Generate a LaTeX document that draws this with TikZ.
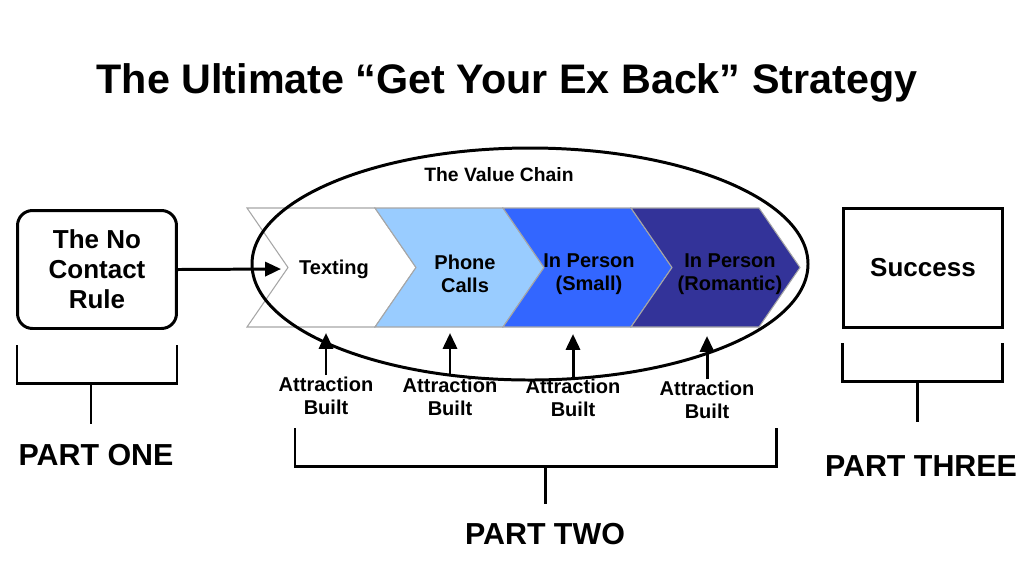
\documentclass[tikz,border=0pt]{standalone}
\usepackage{fontspec}
\setmainfont{Liberation Sans}
\usepackage{xcolor}
\usetikzlibrary{arrows.meta, positioning}

\definecolor{chainwhite}{HTML}{FFFFFF}
\definecolor{chainlight}{HTML}{99CCFF}
\definecolor{chainmid}{HTML}{3366FF}
\definecolor{chaindark}{HTML}{333399}

\begin{document}
\begin{tikzpicture}[
  x=0.02cm, y=-0.02cm,
  titletext/.style={font=\bfseries\fontsize{23.5}{28}\selectfont, anchor=base},
  block/.style={draw, line width=1.7pt, text centered, align=center, minimum width=3.18cm, font=\bfseries\fontsize{14.8}{17}\selectfont},
  chev/.style={fill=#1, draw=gray!70, line width=0.6pt},
  chevtext/.style={align=center, font=\bfseries\fontsize{11.4}{13}\selectfont},
  gain/.style={align=center, inner sep=1pt, font=\bfseries\fontsize{11.4}{13}\selectfont},
  partlbl/.style={font=\bfseries\fontsize{17.3}{20}\selectfont, anchor=base},
  bracket/.style={line width=1.7pt},
  arrow/.style={-{Triangle[length=9pt, width=8pt]}, line width=1.7pt}
]
\useasboundingbox (0,0) rectangle (1024,576);

% Title
\node[titletext] (title) at (507,93) {The Ultimate “Get Your Ex Back” Strategy};

% Part one box
\node[block, rounded corners=0.3cm, minimum height=2.36cm] (ncr) at (97,269.5) {The No\\Contact\\Rule};

% Value chain
\draw[chev=chainwhite] (247,208) -- (375,208) -- (416,267.5) -- (375,327) -- (247,327) -- (288,267.5) -- cycle;
\draw[chev=chainlight] (375,208) -- (503,208) -- (544,267.5) -- (503,327) -- (375,327) -- (416,267.5) -- cycle;
\draw[chev=chainmid] (503,208) -- (631,208) -- (672,267.5) -- (631,327) -- (503,327) -- (544,267.5) -- cycle;
\draw[chev=chaindark] (631,208) -- (759,208) -- (800,267.5) -- (759,327) -- (631,327) -- (672,267.5) -- cycle;

\node[chevtext] (texting) at (334,269) {Texting};
\node[chevtext] (phone) at (465,274) {Phone\\Calls};
\node[chevtext] (small) at (589,274) {In Person\\(Small)};
\node[chevtext] (romantic) at (730,274) {In Person\\(Romantic)};

\draw[line width=1.7pt] (530,264) ellipse (278 and 116);
\node[font=\bfseries\fontsize{11}{13}\selectfont] (chain) at (499,175) {The Value Chain};

% Part three box
\node[block, minimum height=2.38cm] (success) at (923,268) {Success};

% Attraction built
\node[gain] (ab1) at (326,396) {Attraction\\Built};
\node[gain] (ab2) at (450,397) {Attraction\\Built};
\node[gain] (ab3) at (573,398) {Attraction\\Built};
\node[gain] (ab4) at (707,400) {Attraction\\Built};

\coordinate (t1) at (326,333);
\coordinate (t2) at (450,333);
\coordinate (t3) at (573,334);
\coordinate (t4) at (707,336);
\coordinate (tin) at (281,269);

% Arrows
\draw[arrow] (ncr.east) -- (tin);
\draw[arrow] (ab1.north) -- (t1);
\draw[arrow] (ab2.north) -- (t2);
\draw[arrow] (ab3.north) -- (t3);
\draw[arrow] (ab4.north) -- (t4);

% Brackets
\draw[bracket] (17,345) -- (17,383) -- (177,383) -- (177,345);
\draw[bracket] (91,383) -- (91,424);
\node[partlbl] (one) at (96,465) {PART ONE};

\draw[bracket] (295,428) -- (295,466) -- (776,466) -- (776,428);
\draw[bracket] (545,466) -- (545,504);
\node[partlbl] (two) at (545,544) {PART TWO};

\draw[bracket] (842,343) -- (842,381) -- (1002,381) -- (1002,343);
\draw[bracket] (917,381) -- (917,422);
\node[partlbl] (three) at (921,476) {PART THREE};

\end{tikzpicture}
\end{document}
